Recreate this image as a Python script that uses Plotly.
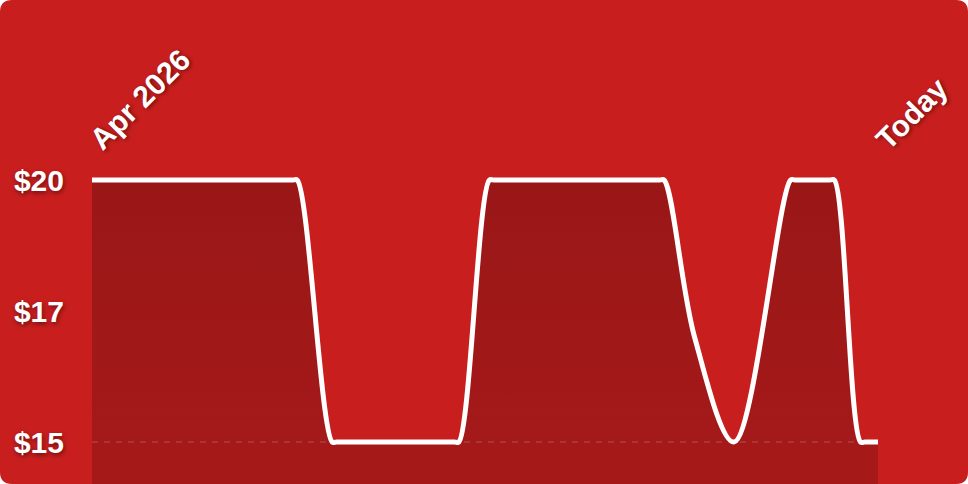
import plotly.graph_objects as go

# price history
dates = [
    "2026-04-01", "2026-05-17", "2026-05-18", "2026-05-26", "2026-05-27",
    "2026-06-23", "2026-06-24", "2026-07-01", "2026-07-02", "2026-08-09",
    "2026-08-10", "2026-08-17", "2026-08-26", "2026-09-08", "2026-09-09",
    "2026-09-17", "2026-09-18", "2026-09-24", "2026-09-25", "2026-09-28",
]
prices = [20, 20, 20, 15, 15, 15, 15, 20, 20, 20, 20, 17, 15, 20, 20, 20, 20, 15, 15, 15]

y_ticks = [15, 17.5, 20]
y_labels = ["$15", "$17", "$20"]
x_labels = ["Apr 2026", "Today"]

RED = "#C81E1E"
W, H = 968, 484
L, R, T, B = 92, 90, 160, 0
pw, ph = W - L - R, H - T - B

font = dict(family="Liberation Sans, Arial, sans-serif", size=30, color="white",
            weight="bold", shadow="1px 2px 4px rgba(0,0,0,0.45)")

fig = go.Figure()
fig.add_trace(go.Scatter(
    x=dates, y=prices,
    mode="lines",
    line=dict(color="white", width=5, shape="spline", smoothing=1),
    fill="tozeroy",
    fillgradient=dict(type="vertical", start=14.2, stop=20,
                      colorscale=[[0, "rgba(0,0,0,0.17)"], [1, "rgba(0,0,0,0.23)"]]),
    hoverinfo="skip",
    showlegend=False,
))

# rounded card behind everything
x0, x1 = -L / pw, (W - L) / pw
y0, y1 = -B / ph, (H - B) / ph
rx, ry = 12 / pw, 12 / ph
path = (f"M{x0+rx},{y0} L{x1-rx},{y0} Q{x1},{y0} {x1},{y0+ry} L{x1},{y1-ry} "
        f"Q{x1},{y1} {x1-rx},{y1} L{x0+rx},{y1} Q{x0},{y1} {x0},{y1-ry} "
        f"L{x0},{y0+ry} Q{x0},{y0} {x0+rx},{y0} Z")
fig.add_shape(type="path", path=path, xref="paper", yref="paper",
              fillcolor=RED, line=dict(width=0), layer="below")

# dashed line at the lowest price
fig.add_shape(type="line", xref="paper", x0=0, x1=1, yref="y", y0=min(prices), y1=min(prices),
              line=dict(color="rgba(255,255,255,0.2)", width=1.5, dash="6px,6px"),
              layer="below")

fig.update_layout(
    width=W, height=H,
    margin=dict(l=L, r=R, t=T, b=B),
    paper_bgcolor="rgba(0,0,0,0)",
    plot_bgcolor="rgba(0,0,0,0)",
    xaxis=dict(
        type="date",
        side="top",
        range=[dates[0], dates[-1]],
        tickvals=[dates[0], dates[-1]],
        ticktext=x_labels,
        tickangle=-45,
        tickfont=font,
        ticklabelstandoff=-3,
        showgrid=False, zeroline=False, showline=False, ticks="",
    ),
    yaxis=dict(
        range=[14.199, 20.382],
        tickvals=y_ticks,
        ticktext=y_labels,
        tickfont=font,
        ticklabelstandoff=27,
        showgrid=False, zeroline=False, showline=False, ticks="",
    ),
)

fig.write_html("out.html", config=dict(displayModeBar=False),
               post_script="document.body.style.margin='0';")
